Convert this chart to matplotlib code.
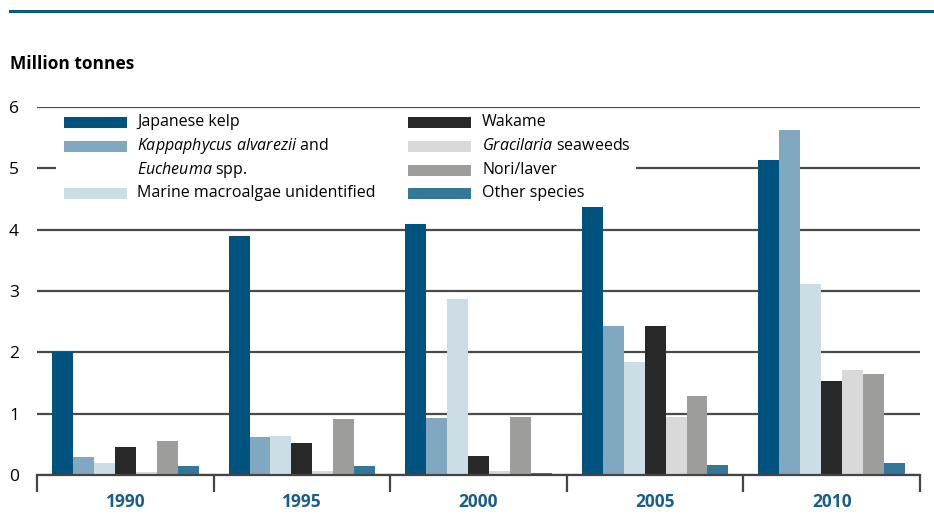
import numpy as np
import matplotlib.pyplot as plt
from matplotlib.patches import Rectangle

plt.rcParams['font.family'] = ['Open Sans', 'DejaVu Sans']
plt.rcParams['mathtext.fontset'] = 'custom'
plt.rcParams['mathtext.rm'] = 'Open Sans'
plt.rcParams['mathtext.it'] = 'Open Sans:italic'

# data (million tonnes)
years = ['1990', '1995', '2000', '2005', '2010']
japanese_kelp = [2.00, 3.90, 4.09, 4.37, 5.14]
kappaphycus = [0.29, 0.62, 0.93, 2.43, 5.63]
marine_unident = [0.20, 0.64, 2.87, 1.84, 3.11]
wakame = [0.46, 0.52, 0.31, 2.43, 1.53]
gracilaria = [0.05, 0.07, 0.07, 0.95, 1.71]
nori = [0.55, 0.91, 0.95, 1.29, 1.65]
other = [0.15, 0.15, 0.04, 0.17, 0.20]

series = [japanese_kelp, kappaphycus, marine_unident, wakame, gracilaria, nori, other]
colors = ['#00527f', '#80a8c0', '#ccdde5', '#282828', '#d9d9d9', '#9d9d9c', '#337799']
labels = ['Japanese kelp',
          r'$\it{Kappaphycus\ alvarezii}$ and',
          'Marine macroalgae unidentified',
          'Wakame',
          r'$\it{Gracilaria}$ seaweeds',
          'Nori/laver',
          'Other species']

W, H = 934, 519
fig = plt.figure(figsize=(W / 100, H / 100), dpi=100)


def fx(px):
    return px / W


def fy(py):
    return 1 - py / H


ax = fig.add_axes([fx(37), fy(475), fx(920) - fx(37), fy(107) - fy(475)])

x = np.arange(len(years))
bw = 0.1186
for i, (vals, c) in enumerate(zip(series, colors)):
    ax.bar(x + (i - 3) * bw, vals, width=bw, color=c, zorder=2, linewidth=0)

ax.set_xlim(-0.5, len(years) - 0.5)
ax.set_ylim(0, 6)
ax.set_yticks(range(7))
ax.tick_params(axis='y', length=0, pad=13, labelsize=12.5)
ax.yaxis.grid(True, color='#4a4a4a', linewidth=1.6)
ax.set_axisbelow(True)

ax.set_xticks(x)
ax.set_xticklabels(years, fontsize=12.5, fontweight='bold', color='#1b5e8a')
ax.tick_params(axis='x', which='major', length=0, pad=13)
ax.set_xticks(np.arange(-0.5, len(years)), minor=True)
ax.tick_params(axis='x', which='minor', length=12, width=1.6, color='#444444')

for s in ['top', 'right', 'left']:
    ax.spines[s].set_visible(False)
ax.spines['bottom'].set_color('#444444')
ax.spines['bottom'].set_linewidth(1.6)

# legend (drawn by hand, white box over the grid)
fig.patches.append(Rectangle((fx(56), fy(206)), fx(636) - fx(56), fy(111) - fy(206),
                             transform=fig.transFigure, facecolor='white',
                             edgecolor='none', zorder=3))
rows = [122, 146, 170, 193]
entries = [(64, 137, rows[0], 0), (64, 137, rows[1], 1), (64, 137, rows[3], 2),
           (408, 482, rows[0], 3), (408, 482, rows[1], 4),
           (408, 482, rows[2], 5), (408, 482, rows[3], 6)]
for px0, tx, ry, k in entries:
    fig.patches.append(Rectangle((fx(px0), fy(ry + 5.5)), fx(63), fy(0) - fy(11),
                                 transform=fig.transFigure, facecolor=colors[k],
                                 edgecolor='none', zorder=4))
    fig.text(fx(tx), fy(ry), labels[k], fontsize=11.5, va='center', ha='left', zorder=5)
fig.text(fx(137), fy(rows[2]), r'$\it{Eucheuma}$ spp.', fontsize=11.5,
         va='center', ha='left', zorder=5)

# header rule and unit label
fig.add_artist(plt.Line2D([fx(10), 1], [fy(10.7), fy(10.7)], color='#0a5a84',
                          linewidth=2.2, transform=fig.transFigure))
fig.text(fx(10), fy(64), 'Million tonnes', fontsize=12.5, fontweight='bold',
         va='center', ha='left')

fig.savefig('out.png', dpi=100)
